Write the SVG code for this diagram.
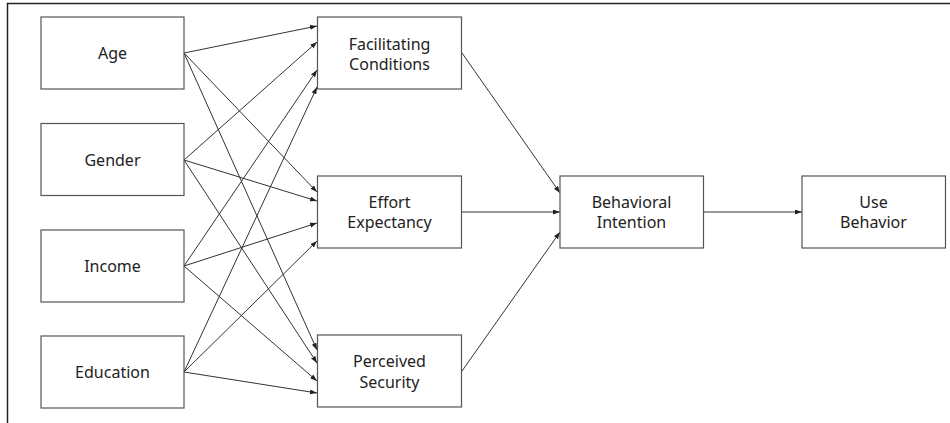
<svg xmlns="http://www.w3.org/2000/svg" width="950" height="423" viewBox="0 0 950 423">
<defs>
<marker id="arr" markerUnits="userSpaceOnUse" markerWidth="8" markerHeight="6" refX="7" refY="2.5" orient="auto">
<path d="M0,0 L7,2.5 L0,5 z" fill="#222"/>
</marker>
<style>
.box{fill:#fff;stroke:#555;stroke-width:1.2}
.t{font-family:"Noto Sans","Open Sans",sans-serif;font-size:16px;fill:#222;text-anchor:middle}
.c line{stroke:#333;stroke-width:1;marker-end:url(#arr)}
.frame{stroke:#222;stroke-width:1.5;fill:none}
</style>
</defs>
<rect width="950" height="423" fill="#fff"/>
<path class="frame" d="M7.5,423 L7.5,3.5 L950,3.5"/>
<g class="c" id="connectors">
<line x1="184" y1="53" x2="317" y2="26"/>
<line x1="184" y1="53" x2="317" y2="192"/>
<line x1="184" y1="53" x2="317" y2="350"/>
<line x1="184" y1="160" x2="317" y2="42"/>
<line x1="184" y1="160" x2="317" y2="201"/>
<line x1="184" y1="160" x2="317" y2="363"/>
<line x1="184" y1="266" x2="317" y2="70"/>
<line x1="184" y1="266" x2="317" y2="223"/>
<line x1="184" y1="266" x2="317" y2="381"/>
<line x1="184" y1="372" x2="317" y2="87"/>
<line x1="184" y1="372" x2="317" y2="241"/>
<line x1="184" y1="372" x2="317" y2="393"/>
<line x1="462" y1="53" x2="560" y2="193"/>
<line x1="462" y1="212" x2="560" y2="212"/>
<line x1="462" y1="371" x2="560" y2="232"/>
<line x1="703" y1="212" x2="802" y2="212"/>
</g>
<g id="age"><rect class="box" x="41" y="17" width="143" height="72"/><text class="t" x="112.5" y="59">Age</text></g>
<g id="gender"><rect class="box" x="41" y="123.5" width="143" height="72"/><text class="t" x="112.5" y="166">Gender</text></g>
<g id="income"><rect class="box" x="41" y="230" width="143" height="72"/><text class="t" x="112.5" y="272">Income</text></g>
<g id="education"><rect class="box" x="41" y="336" width="143" height="72"/><text class="t" x="112.5" y="378">Education</text></g>
<g id="fc"><rect class="box" x="317.5" y="17" width="144" height="72"/><text class="t" x="389.5" y="49.5">Facilitating</text><text class="t" x="389.5" y="69.5">Conditions</text></g>
<g id="ee"><rect class="box" x="317.5" y="176" width="144" height="72"/><text class="t" x="389.5" y="207.5">Effort</text><text class="t" x="389.5" y="228">Expectancy</text></g>
<g id="ps"><rect class="box" x="317.5" y="335" width="144" height="72"/><text class="t" x="389.5" y="367">Perceived</text><text class="t" x="389.5" y="387.5">Security</text></g>
<g id="bi"><rect class="box" x="560" y="176" width="143.5" height="72"/><text class="t" x="631.5" y="207.5">Behavioral</text><text class="t" x="631.5" y="228">Intention</text></g>
<g id="ub"><rect class="box" x="802" y="176" width="143.5" height="72"/><text class="t" x="873.5" y="207.5">Use</text><text class="t" x="873.5" y="228">Behavior</text></g>
</svg>
